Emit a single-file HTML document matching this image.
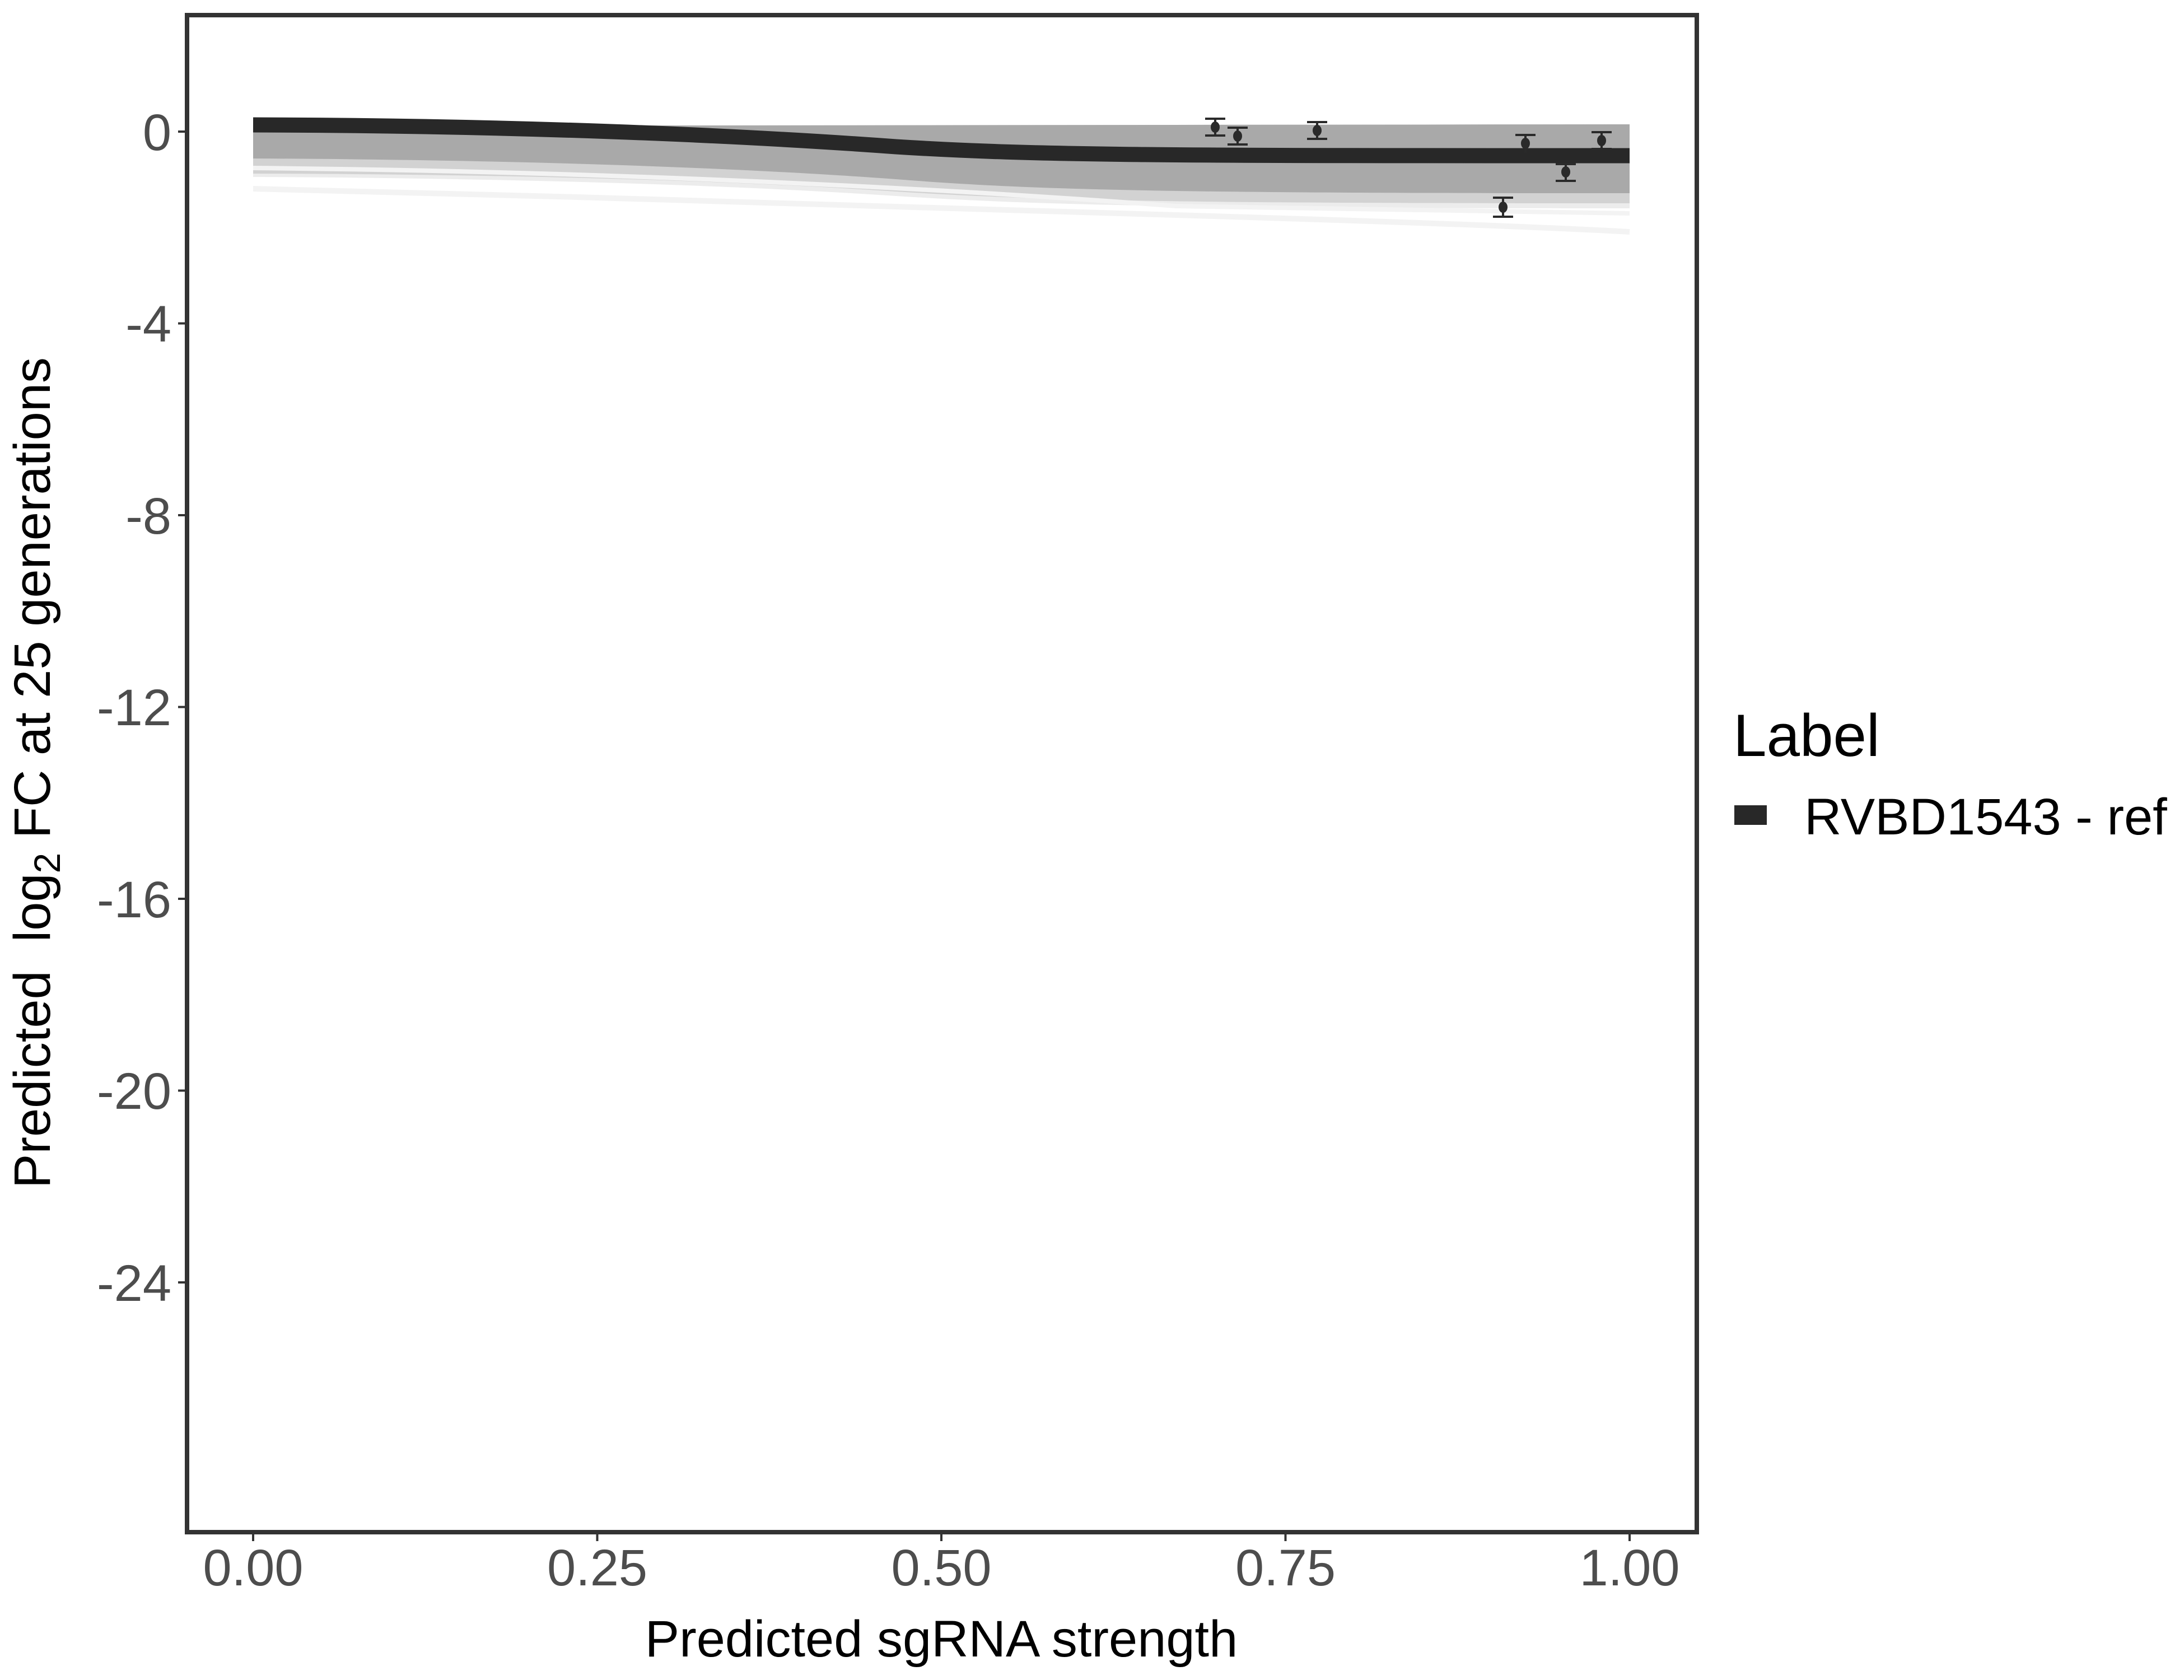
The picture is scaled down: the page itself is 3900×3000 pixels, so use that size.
<!DOCTYPE html>
<html><head><meta charset="utf-8"><style>
html,body{margin:0;padding:0;background:#fff;}
svg{display:block;}
text{font-family:"Liberation Sans",Arial,sans-serif;}
</style></head><body>
<svg width="3900" height="3000" viewBox="0 0 3900 3000" xmlns="http://www.w3.org/2000/svg">
<rect width="3900" height="3000" fill="#fff"/>
<!-- ensemble band -->
<path d="M452,225 L2910,222 L2910,372 C2100,372 1850,366 1600,350 C1300,330 900,318 452,316 Z" fill="#ececec"/>
<path d="M452,225 L2910,222 L2910,363 C2100,363 1850,358 1600,342 C1300,322 900,311 452,310 Z" fill="#d2d2d2"/>
<path d="M452,225 L2910,222 L2910,345 C2100,345 1850,340 1600,320 C1300,298 900,285 452,283 Z" fill="#a9a9a9"/>
<path d="M452,337 C1000,350 1600,368 2100,384 C2500,396 2750,405 2910,414" fill="none" stroke="#f3f3f3" stroke-width="10"/>
<path d="M452,300 C1000,305 1600,330 2100,368 C2500,374 2750,378 2910,381" fill="none" stroke="#f3f3f3" stroke-width="8"/>
<!-- main curve -->
<path d="M452,223 C900,224 1300,240 1600,262 C1850,278 2100,278 2910,278" fill="none" stroke="#282828" stroke-width="27"/>
<!-- error bars -->
<g stroke="#2a2a2a" stroke-width="4" fill="#2a2a2a">
<line x1="2170" y1="212" x2="2170" y2="242"/><line x1="2152" y1="212" x2="2188" y2="212"/><line x1="2152" y1="242" x2="2188" y2="242"/><ellipse cx="2170" cy="227" rx="6" ry="8"/>
<line x1="2210" y1="228" x2="2210" y2="258"/><line x1="2192" y1="228" x2="2228" y2="228"/><line x1="2192" y1="258" x2="2228" y2="258"/><ellipse cx="2210" cy="243" rx="6" ry="8"/>
<line x1="2352" y1="218" x2="2352" y2="248"/><line x1="2334" y1="218" x2="2370" y2="218"/><line x1="2334" y1="248" x2="2370" y2="248"/><ellipse cx="2352" cy="233" rx="6" ry="8"/>
<line x1="2684" y1="353" x2="2684" y2="387"/><line x1="2666" y1="353" x2="2702" y2="353"/><line x1="2666" y1="387" x2="2702" y2="387"/><ellipse cx="2684" cy="370" rx="6" ry="8"/>
<line x1="2724" y1="241" x2="2724" y2="272"/><line x1="2706" y1="241" x2="2742" y2="241"/><ellipse cx="2724" cy="256" rx="6" ry="8"/>
<line x1="2796" y1="293" x2="2796" y2="323"/><line x1="2778" y1="293" x2="2814" y2="293"/><line x1="2778" y1="323" x2="2814" y2="323"/><ellipse cx="2796" cy="307" rx="6" ry="8"/>
<line x1="2860" y1="236" x2="2860" y2="266"/><line x1="2842" y1="236" x2="2878" y2="236"/><line x1="2842" y1="266" x2="2878" y2="266"/><ellipse cx="2860" cy="251" rx="6" ry="8"/>
</g>
<!-- panel border -->
<rect x="334" y="27" width="2696" height="2709" fill="none" stroke="#333" stroke-width="8"/>
<!-- ticks -->
<g stroke="#333" stroke-width="4">
<line x1="318" y1="235" x2="330" y2="235"/><line x1="318" y1="577.5" x2="330" y2="577.5"/><line x1="318" y1="920" x2="330" y2="920"/><line x1="318" y1="1262.5" x2="330" y2="1262.5"/><line x1="318" y1="1605" x2="330" y2="1605"/><line x1="318" y1="1947.5" x2="330" y2="1947.5"/><line x1="318" y1="2290" x2="330" y2="2290"/>
<line x1="452" y1="2740" x2="452" y2="2752"/><line x1="1066.5" y1="2740" x2="1066.5" y2="2752"/><line x1="1681" y1="2740" x2="1681" y2="2752"/><line x1="2295.5" y1="2740" x2="2295.5" y2="2752"/><line x1="2910" y1="2740" x2="2910" y2="2752"/>
</g>
<g font-size="92" fill="#4d4d4d" text-anchor="end">
<text x="306" y="268">0</text><text x="306" y="610">-4</text><text x="306" y="953">-8</text><text x="306" y="1295">-12</text><text x="306" y="1638">-16</text><text x="306" y="1980">-20</text><text x="306" y="2323">-24</text>
</g>
<g font-size="92" fill="#4d4d4d" text-anchor="middle">
<text x="452" y="2831">0.00</text><text x="1066.5" y="2831">0.25</text><text x="1681" y="2831">0.50</text><text x="2295.5" y="2831">0.75</text><text x="2910" y="2831">1.00</text>
</g>
<text x="1681" y="2958" font-size="92" fill="#000" text-anchor="middle">Predicted sgRNA strength</text>
<text transform="translate(89,1380) rotate(-90)" font-size="92" fill="#000" text-anchor="middle">Predicted&#160; log<tspan font-size="66" dy="18">2</tspan><tspan dy="-18"> FC at 25 generations</tspan></text>
<!-- legend -->
<text x="3095" y="1350" font-size="107" fill="#000">Label</text>
<rect x="3097" y="1438" width="58" height="35" fill="#282828"/>
<text x="3222" y="1490" font-size="92" fill="#000">RVBD1543 - ref</text>
</svg>
</body></html>
